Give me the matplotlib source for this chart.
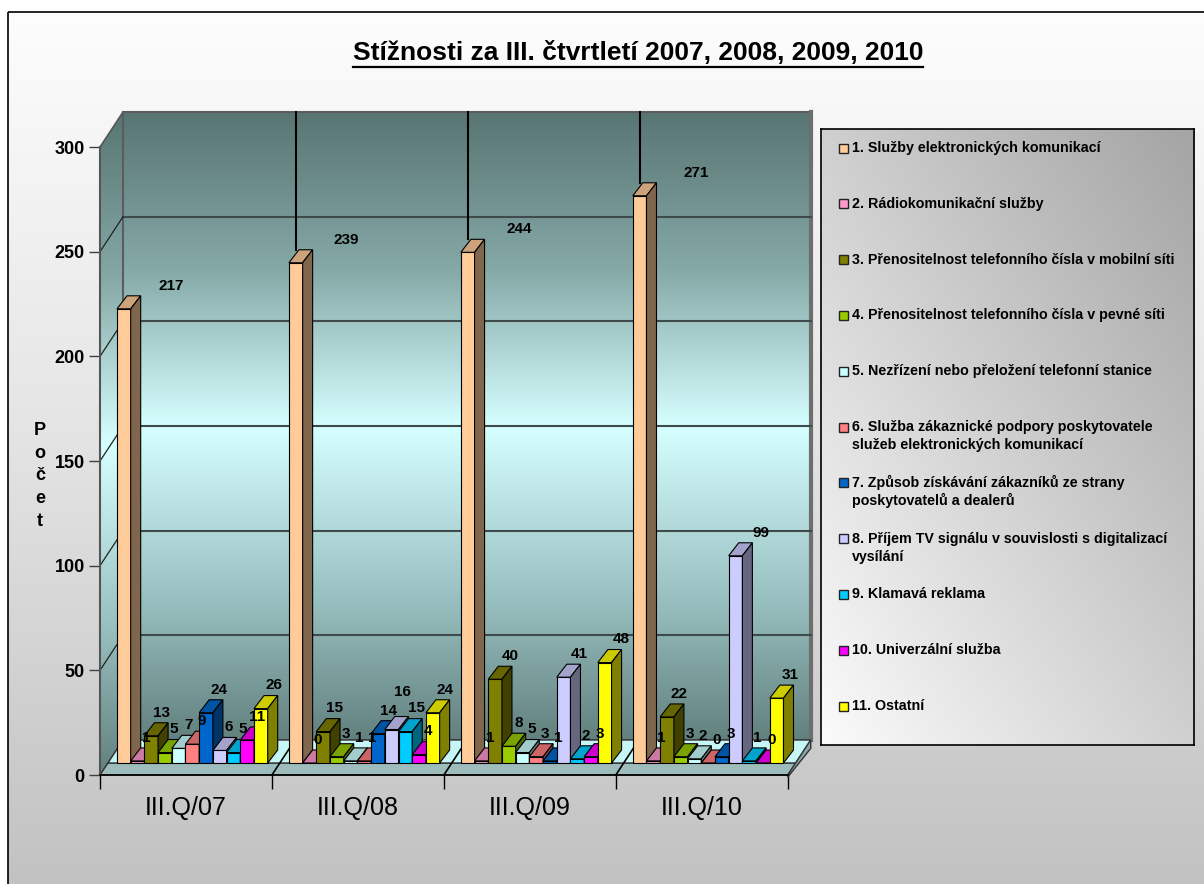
import numpy as np
import matplotlib.pyplot as plt
from matplotlib.patches import Polygon, Rectangle
from matplotlib.colors import to_rgb

plt.rcParams['font.family'] = ['Liberation Sans', 'DejaVu Sans']

# data
quarters = ['III.Q/07', 'III.Q/08', 'III.Q/09', 'III.Q/10']
categories = [
    '1. Služby elektronických komunikací',
    '2. Rádiokomunikační služby',
    '3. Přenositelnost telefonního čísla v mobilní síti',
    '4. Přenositelnost telefonního čísla v pevné síti',
    '5. Nezřízení nebo přeložení telefonní stanice',
    '6. Služba zákaznické podpory poskytovatele\nslužeb elektronických komunikací',
    '7. Způsob získávání zákazníků ze strany\nposkytovatelů a dealerů',
    '8. Příjem TV signálu v souvislosti s digitalizací\nvysílání',
    '9. Klamavá reklama',
    '10. Univerzální služba',
    '11. Ostatní',
]
colors = ['#FFCC99', '#FF99CC', '#808000', '#99CC00', '#CCFFFF', '#FF8080',
          '#0066CC', '#CCCCFF', '#00CCFF', '#FF00FF', '#FFFF00']
q07 = [217, 1, 13, 5, 7, 9, 24, 6, 5, 11, 26]
q08 = [239, 0, 15, 3, 1, 1, 14, 16, 15, 4, 24]
q09 = [244, 1, 40, 8, 5, 3, 1, 41, 2, 3, 48]
q10 = [271, 1, 22, 3, 2, 0, 3, 99, 1, 0, 31]
values = [q07, q08, q09, q10]
yticks = [0, 50, 100, 150, 200, 250, 300]

# geometry (one x unit = one bar width)
PXX, PXY = 13.7, 2.093          # pixels per x unit / per value unit
X0PX, Y0PX = 100, 775           # pixel position of the origin
GROUP = 12.55                   # group spacing
BAR0 = 1.24                     # first bar offset inside group
BASE = 12 / PXY                 # bars stand on the floor
DX, DY = 10 / PXX, 13 / PXY     # bar depth
DXW, DYW = 23 / PXX, 35 / PXY   # wall depth
FX = 8 / PXX
YMAX = 300


def shade(c, f):
    return tuple(np.array(to_rgb(c)) * f)


def vgrad(stops, n=300):
    pos = [p for p, _ in stops]
    cols = np.array([to_rgb(c) for _, c in stops])
    t = np.linspace(0, 1, n)
    arr = np.stack([np.interp(t, pos, cols[:, k]) for k in range(3)], axis=-1)
    return arr[:, None, :]


fig = plt.figure(figsize=(12.04, 8.84), dpi=100)

# background frame
bg = fig.add_axes([0, 0, 1, 1], zorder=0)
bg.set_xlim(0, 1204)
bg.set_ylim(884, 0)
bg.axis('off')
bg.imshow(vgrad([(0, '#fdfdfd'), (0.45, '#e6e6e6'), (1, '#c2c2c2')]),
          extent=[8, 1204, 884, 12], aspect='auto', zorder=0)
bg.add_patch(Rectangle((8, 12), 1220, 900, fill=False, ec='black', lw=1.2, zorder=1))

# main chart axes
ax = fig.add_axes([0, 0, 1, 1], zorder=1)
ax.patch.set_alpha(0)
ax.set_xlim(-X0PX / PXX, (1204 - X0PX) / PXX)
ax.set_ylim(-(884 - Y0PX) / PXY, Y0PX / PXY)

wall_grad = vgrad([(0, '#587573'), (0.25, '#85a9a7'), (0.5, '#d6ffff'),
                   (0.78, '#98bfbf'), (1, '#62817f')])
xr = 4 * GROUP
ax.imshow(wall_grad, extent=[DXW, xr + DXW, DYW, YMAX + DYW], aspect='auto', zorder=1)
side = Polygon([(0, 0), (0, YMAX), (DXW, YMAX + DYW), (DXW, DYW)], closed=True,
               fc='none', ec='#555555', lw=1.2, zorder=1.2)
im = ax.imshow(wall_grad, extent=[0, DXW, 0, YMAX + DYW], aspect='auto', zorder=1.1)
ax.add_patch(side)
im.set_clip_path(side)
ax.add_patch(Rectangle((DXW, DYW), xr, YMAX, fill=False, ec='#5c5c5c', lw=1.5, zorder=1.2))
ax.plot([xr + DXW] * 2, [DYW, YMAX + DYW], color='#6e6e6e', lw=3, zorder=1.2)

# gridlines
for v in yticks[1:-1]:
    ax.plot([DXW, xr + DXW], [v + DYW] * 2, color='#3f4a4a', lw=1.5, zorder=1.5)
    ax.plot([0, DXW], [v, v + DYW], color='#222222', lw=0.9, zorder=1.5)

# floor
ax.add_patch(Polygon([(0, 0), (xr, 0), (xr + FX, BASE), (FX, BASE)], closed=True,
                     fc='#9fbcbc', ec='#333333', lw=1, zorder=2))
ax.add_patch(Polygon([(FX, BASE), (xr + FX, BASE), (xr + DXW, DYW), (DXW, DYW)], closed=True,
                     fc='#c6f6f6', ec='#333333', lw=1, zorder=2))
ax.add_patch(Polygon([(xr, 0), (xr + DXW, DYW), (xr + DXW, DYW - 4), (xr, -1)], closed=True,
                     fc='#8aa6a6', ec='#333333', lw=1, zorder=2))
for k in range(1, 4):
    ax.plot([k * GROUP, k * GROUP + DXW], [0, DYW], color='black', lw=1.2, zorder=2.1)

# bars
z = 3.0
for g, vals in enumerate(values):
    prev = None
    for i, v in enumerate(vals):
        x = g * GROUP + BAR0 + i
        top = BASE + v
        ax.bar(x, v, width=1, bottom=BASE, align='edge', color=colors[i],
               edgecolor='black', lw=0.8, zorder=z)
        ax.add_patch(Polygon([(x, top), (x + 1, top), (x + 1 + DX, top + DY), (x + DX, top + DY)],
                             closed=True, fc=shade(colors[i], 0.8), ec='black', lw=0.8, zorder=z))
        ax.add_patch(Polygon([(x + 1, BASE), (x + 1 + DX, BASE + DY), (x + 1 + DX, top + DY), (x + 1, top)],
                             closed=True, fc=shade(colors[i], 0.5), ec='black', lw=0.8, zorder=z))
        z += 0.01
        lx = x + 0.5 + 0.6 + 0.013 * v
        ly = top + DY + 1.5
        hw = len(str(v)) * 0.3
        # lift a label that would collide with its left neighbour
        if prev and abs(lx - prev[0]) < hw + prev[2] and abs(ly - prev[1]) < 7:
            ly = prev[1] + 9
        ax.text(lx, ly, str(v), ha='center', va='bottom',
                fontsize=11, fontweight='bold', zorder=10)
        prev = (lx, ly, hw)
    if g > 0:
        x = g * GROUP + BAR0 + 0.5
        ax.plot([x, x], [BASE + vals[0] + DY, YMAX + DYW], color='black', lw=1.5, zorder=2.8)

# axes
for s in ['top', 'right']:
    ax.spines[s].set_visible(False)
ax.spines['left'].set_position(('data', 0))
ax.spines['left'].set_bounds(0, YMAX)
ax.spines['left'].set_color('#555555')
ax.spines['left'].set_linewidth(1.5)
ax.spines['bottom'].set_position(('data', 0))
ax.spines['bottom'].set_bounds(0, xr)
ax.spines['bottom'].set_linewidth(1.2)
ax.set_yticks(yticks)
ax.tick_params(axis='y', length=8, width=1, color='#404040', pad=3, labelsize=13)
for lab in ax.get_yticklabels():
    lab.set_fontweight('bold')
ax.set_xticks([k * GROUP for k in range(5)])
ax.set_xticklabels([])
ax.set_xticks([(k + 0.5) * GROUP for k in range(4)], minor=True)
ax.set_xticklabels(quarters, minor=True, fontsize=18)
ax.tick_params(axis='x', which='major', length=10, width=1, direction='out')
ax.tick_params(axis='x', which='minor', length=0, pad=15)

# y label
fig.text(40 / 1204, 1 - 476 / 884, 'P\no\nč\ne\nt', ha='center', va='center',
         fontsize=13, fontweight='bold', linespacing=1.45)

# title
title = fig.text(638 / 1204, 1 - 53 / 884, 'Stížnosti za III. čtvrtletí 2007, 2008, 2009, 2010',
                 ha='center', va='center', fontsize=19, fontweight='bold')
fig.canvas.draw()
bb = title.get_window_extent()
bg.plot([bb.x0, bb.x1], [884 - bb.y0 + 2] * 2, color='black', lw=1.6, zorder=2)

# legend
L, T, R, B = 821, 129, 1194, 745
lax = fig.add_axes([L / 1204, 1 - B / 884, (R - L) / 1204, (B - T) / 884], zorder=2)
lax.set_xlim(0, R - L)
lax.set_ylim(B - T, 0)
lax.set_xticks([])
lax.set_yticks([])
u = np.linspace(0, 1, 200)[None, :]
t = np.linspace(1, 0, 200)[:, None]
gmix = (u + t) / 2
lo, hi = np.array(to_rgb('#fbfbfb')), np.array(to_rgb('#a4a4a4'))
lax.imshow(lo + (hi - lo) * gmix[..., None], extent=[0, R - L, B - T, 0], aspect='auto')
for s in lax.spines.values():
    s.set_linewidth(1.2)
for i, (name, c) in enumerate(zip(categories, colors)):
    yc = 19 + i * 55.8
    lax.add_patch(Rectangle((18, yc - 4.5), 9, 9, fc=c, ec='#222222', lw=1))
    for j, line in enumerate(name.split('\n')):
        lax.text(31, yc + j * 18, line, ha='left', va='center', fontsize=10.3, fontweight='bold')

fig.savefig('out.png', dpi=100)
